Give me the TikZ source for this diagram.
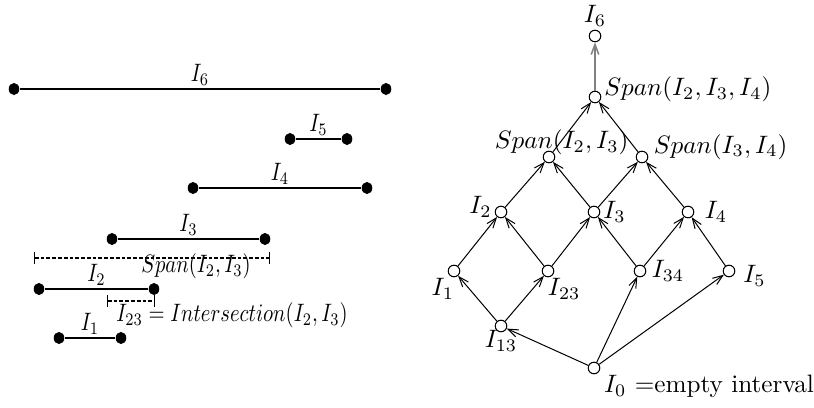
\documentclass[tikz,border=0pt]{standalone}
\usepackage{graphicx}
\usetikzlibrary{shapes.geometric,arrows.meta,positioning}

\newcommand{\narrow}[1]{\scalebox{0.82}[1]{#1}}

\begin{document}
\begin{tikzpicture}[x=0.397pt, y=-0.397pt,
    >={Straight Barb[length=4pt,width=3pt]},
    dot/.style={ellipse, fill, inner sep=0pt, minimum width=4.2pt, minimum height=4.8pt},
    vtx/.style={circle, draw, inner sep=0pt, minimum size=4.6pt},
    lbl/.style={inner sep=1pt},
    ival/.style={line width=0.6pt},
    span/.style={dash pattern=on 1.5pt off 0.8pt, {Bar[width=4.5pt]}-{Bar[width=4.5pt]}},
    up/.style={->, draw, black}]

\useasboundingbox (0,0) rectangle (814,408);

% intervals
\node [dot] (a6) at (14,89) {};
\node [dot] (b6) at (386,89) {};
\node [dot] (a5) at (290,139) {};
\node [dot] (b5) at (347,139) {};
\node [dot] (a4) at (193,188) {};
\node [dot] (b4) at (367,188) {};
\node [dot] (a3) at (112,239) {};
\node [dot] (b3) at (265,239) {};
\node [dot] (a2) at (39,289) {};
\node [dot] (b2) at (154,289) {};
\node [dot] (a1) at (59,338) {};
\node [dot] (b1) at (121,338) {};
\draw [ival] (a6) -- (b6) node[midway,above,lbl] {\narrow{$I_6$}};
\draw [ival] (a5) -- (b5) node[midway,above,lbl] {\narrow{$I_5$}};
\draw [ival] (a4) -- (b4) node[midway,above,lbl] {\narrow{$I_4$}};
\draw [ival] (a3) -- (b3) node[midway,above,lbl] {\narrow{$I_3$}};
\draw [ival] (a2) -- (b2) node[midway,above,lbl] {\narrow{$I_2$}};
\draw [ival] (a1) -- (b1) node[midway,above,lbl] {\narrow{$I_1$}};

\coordinate (sa) at (34,258);
\coordinate (sb) at (270,258);
\coordinate (ia) at (107,301);
\coordinate (ib) at (155,301);
\draw [span] (sa) -- (sb);
\draw [span] (ia) -- (ib);
\node (spanlbl) at (196,266) {\narrow{$Span(I_2,I_3)$}};
\node (intlbl) at (232,315) {\narrow{$I_{23} = Intersection(I_2,I_3)$}};

% lattice
\node [vtx, label={[lbl]above:$I_6$}] (i6) at (595,36) {};
\node [vtx, label={[lbl,anchor=west,yshift=3pt]east:$Span(I_2,I_3,I_4)$}] (s234) at (595,97) {};
\node [vtx, label={[lbl,anchor=south,xshift=5pt,yshift=-3pt]north:$Span(I_2,I_3)$}] (s23) at (549,157) {};
\node [vtx, label={[lbl,anchor=west,xshift=1pt,yshift=4pt]east:$Span(I_3,I_4)$}] (s34) at (642,157) {};
\node [vtx, label={[lbl,yshift=2pt]left:$I_2$}] (i2) at (501,212) {};
\node [vtx, label={[lbl]right:$I_3$}] (i3) at (594,212) {};
\node [vtx, label={[lbl,xshift=3pt]right:$I_4$}] (i4) at (688,212) {};
\node [vtx, label={[lbl,xshift=3pt]below left:$I_1$}] (i1) at (454,271) {};
\node [vtx, label={[lbl,xshift=-3pt]below right:$I_{23}$}] (i23) at (548,271) {};
\node [vtx, label={[lbl,xshift=1pt]right:$I_{34}$}] (i34) at (640,271) {};
\node [vtx, label={[lbl,xshift=2pt,yshift=-2pt]right:$I_5$}] (i5) at (729,271) {};
\node [vtx, label={[lbl,yshift=2pt]below:$I_{13}$}] (i13) at (501,326) {};
\node [vtx, label={[lbl,anchor=north west,xshift=1pt]south east:$I_0$ =empty interval}] (i0) at (594,368) {};

\draw [up] (i0) -- (i13);
\draw [up] (i0) -- (i34);
\draw [up] (i0) -- (i5);
\draw [up] (i13) -- (i1);
\draw [up] (i13) -- (i23);
\draw [up] (i1) -- (i2);
\draw [up] (i23) -- (i2);
\draw [up] (i23) -- (i3);
\draw [up] (i34) -- (i3);
\draw [up] (i34) -- (i4);
\draw [up] (i5) -- (i4);
\draw [up] (i2) -- (s23);
\draw [up] (i3) -- (s23);
\draw [up] (i3) -- (s34);
\draw [up] (i4) -- (s34);
\draw [up] (s23) -- (s234);
\draw [up] (s34) -- (s234);
\draw [up, gray, line width=0.6pt] (s234) -- (i6);

\end{tikzpicture}
\end{document}
